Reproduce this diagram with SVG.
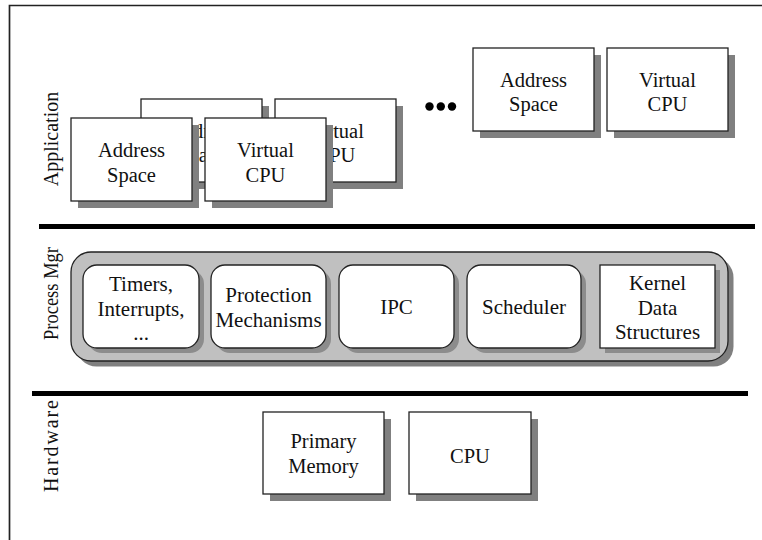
<svg xmlns="http://www.w3.org/2000/svg" width="762" height="540" viewBox="0 0 762 540" font-family="Liberation Serif, Times New Roman, serif">
  <defs>
    <style>
      text { font-family: "Liberation Serif", "Times New Roman", serif; fill: #111; text-anchor: middle; }
      .lbl { font-family: "Liberation Serif", serif; font-size: 20.5px; }
      .pm { font-family: "Liberation Serif", serif; font-size: 21px; }
      .layer { font-family: "Liberation Serif", serif; font-size: 20px; }
      .box { fill: #fff; stroke: #222; stroke-width: 1.3; }
      .shadow { fill: #808080; }
      .ishadow { fill: #8c8c8c; }
      .rule { stroke: #000; stroke-width: 5; }
    </style>
  </defs>

  <rect width="762" height="540" fill="#fff"/>

  <!-- outer frame (left and top edges) -->
  <path d="M9.5 540 V5.5 H762" fill="none" stroke="#222" stroke-width="1.7"/>

  <!-- layer separators -->
  <g id="separators">
    <line class="rule" x1="39" y1="226.5" x2="755" y2="226.5"/>
    <line class="rule" x1="32" y1="393.5" x2="748" y2="393.5"/>
  </g>

  <!-- layer titles -->
  <g id="layer-titles" font-family="Liberation Serif, serif">
    <text class="layer" transform="translate(58,139) rotate(-90)" font-size="20.5">Application</text>
    <text class="layer" transform="translate(58,293.5) rotate(-90)" textLength="93" lengthAdjust="spacingAndGlyphs">Process Mgr</text>
    <text class="layer" transform="translate(58,446) rotate(-90)" textLength="92" lengthAdjust="spacing">Hardware</text>
  </g>

  <!-- application: stacked address space / virtual cpu pairs -->
  <g id="app-back-as" font-family="Liberation Serif, serif">
    <rect class="shadow" x="148" y="106" width="121" height="83"/>
    <rect class="box" x="141" y="99" width="121" height="83"/>
    <text class="lbl" x="201.5" y="137.5">Address</text>
    <text class="lbl" x="201.5" y="162">Space</text>
  </g>
  <g id="app-back-vcpu" font-family="Liberation Serif, serif">
    <rect class="shadow" x="282" y="106" width="121" height="83"/>
    <rect class="box" x="275" y="99" width="121" height="83"/>
    <text class="lbl" x="335.5" y="137.5">Virtual</text>
    <text class="lbl" x="335.5" y="162">CPU</text>
  </g>
  <g id="app-front-as" font-family="Liberation Serif, serif">
    <rect class="shadow" x="78" y="125" width="121" height="83"/>
    <rect class="box" x="71" y="118" width="121" height="83"/>
    <text class="lbl" x="131.5" y="157">Address</text>
    <text class="lbl" x="131.5" y="181.5">Space</text>
  </g>
  <g id="app-front-vcpu" font-family="Liberation Serif, serif">
    <rect class="shadow" x="212" y="125" width="121" height="83"/>
    <rect class="box" x="205" y="118" width="121" height="83"/>
    <text class="lbl" x="265.5" y="157">Virtual</text>
    <text class="lbl" x="265.5" y="181.5">CPU</text>
  </g>

  <!-- ellipsis between instances -->
  <g id="ellipsis" fill="#000">
    <circle cx="429.5" cy="106.5" r="4.2"/>
    <circle cx="440.8" cy="106.5" r="4.2"/>
    <circle cx="452" cy="106.5" r="4.2"/>
  </g>

  <g id="app-n-as" font-family="Liberation Serif, serif">
    <rect class="shadow" x="480" y="55" width="121" height="83"/>
    <rect class="box" x="473" y="48" width="121" height="83"/>
    <text class="lbl" x="533.5" y="86.5">Address</text>
    <text class="lbl" x="533.5" y="111">Space</text>
  </g>
  <g id="app-n-vcpu" font-family="Liberation Serif, serif">
    <rect class="shadow" x="614" y="55" width="121" height="83"/>
    <rect class="box" x="607" y="48" width="121" height="83"/>
    <text class="lbl" x="667.5" y="86.5">Virtual</text>
    <text class="lbl" x="667.5" y="111">CPU</text>
  </g>

  <!-- process manager -->
  <g id="process-mgr">
    <rect class="shadow" x="76.5" y="257.5" width="657" height="109" rx="20"/>
    <rect x="71" y="252" width="657" height="109" rx="20" fill="#c0c0c0" stroke="#222" stroke-width="1.3"/>
  </g>
  <g id="pm-timers" font-family="Liberation Serif, serif">
    <rect class="ishadow" x="88" y="270" width="116" height="83" rx="14"/>
    <rect class="box" x="83" y="265" width="116" height="83" rx="14"/>
    <text class="pm" x="141" y="291">Timers,</text>
    <text class="pm" x="141" y="315.5">Interrupts,</text>
    <text class="pm" x="141" y="340">...</text>
  </g>
  <g id="pm-protection" font-family="Liberation Serif, serif">
    <rect class="ishadow" x="216" y="270" width="115" height="83" rx="14"/>
    <rect class="box" x="211" y="265" width="115" height="83" rx="14"/>
    <text class="pm" x="268.5" y="302">Protection</text>
    <text class="pm" x="268.5" y="327">Mechanisms</text>
  </g>
  <g id="pm-ipc" font-family="Liberation Serif, serif">
    <rect class="ishadow" x="344" y="270" width="115" height="83" rx="14"/>
    <rect class="box" x="339" y="265" width="115" height="83" rx="14"/>
    <text class="pm" x="396.5" y="314">IPC</text>
  </g>
  <g id="pm-scheduler" font-family="Liberation Serif, serif">
    <rect class="ishadow" x="472" y="270" width="114" height="83" rx="14"/>
    <rect class="box" x="467" y="265" width="114" height="83" rx="14"/>
    <text class="pm" x="524" y="314">Scheduler</text>
  </g>
  <g id="pm-kernel-data" font-family="Liberation Serif, serif">
    <rect class="ishadow" x="605" y="270" width="115" height="83"/>
    <rect class="box" x="600" y="265" width="115" height="83"/>
    <text class="pm" x="657.5" y="290">Kernel</text>
    <text class="pm" x="657.5" y="314.5">Data</text>
    <text class="pm" x="657.5" y="339">Structures</text>
  </g>

  <!-- hardware -->
  <g id="hw-memory" font-family="Liberation Serif, serif">
    <rect class="shadow" x="270" y="419" width="121" height="82"/>
    <rect class="box" x="263" y="412" width="121" height="82"/>
    <text class="lbl" x="323.5" y="448">Primary</text>
    <text class="lbl" x="323.5" y="473">Memory</text>
  </g>
  <g id="hw-cpu" font-family="Liberation Serif, serif">
    <rect class="shadow" x="416" y="419" width="122" height="82"/>
    <rect class="box" x="409" y="412" width="122" height="82"/>
    <text class="lbl" x="470" y="462.5">CPU</text>
  </g>
</svg>
